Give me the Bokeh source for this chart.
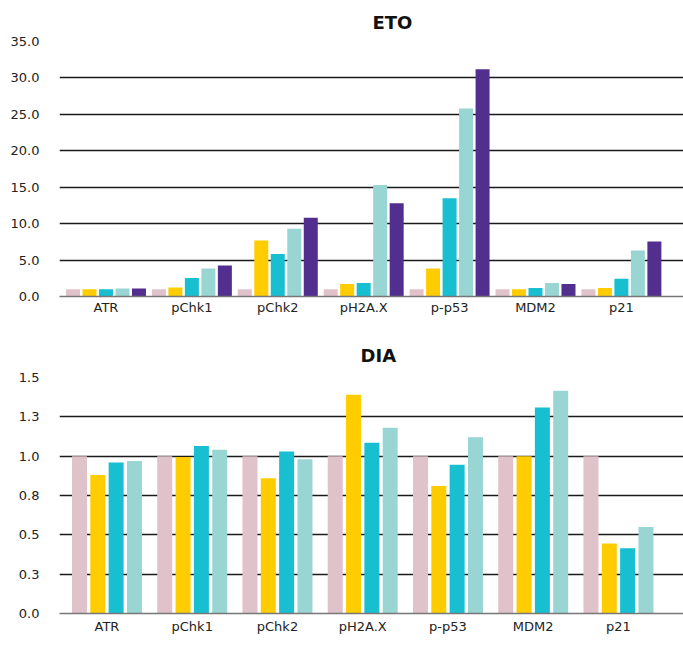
from bokeh.plotting import figure
from bokeh.layouts import column
from bokeh.models import FixedTicker, Range1d, Title
from bokeh.embed import file_html
from bokeh.resources import INLINE

categories = ["ATR", "pChk1", "pChk2", "pH2A.X", "p-p53", "MDM2", "p21"]

# ETO panel (5 series)
eto_s1 = [1.0, 1.0, 1.0, 1.0, 1.0, 1.0, 1.0]
eto_s2 = [1.0, 1.25, 7.7, 1.7, 3.85, 1.0, 1.15]
eto_s3 = [1.0, 2.55, 5.85, 1.85, 13.5, 1.15, 2.45]
eto_s4 = [1.1, 3.85, 9.3, 15.3, 25.8, 1.85, 6.3]
eto_s5 = [1.1, 4.25, 10.8, 12.8, 31.2, 1.7, 7.55]

# DIA panel (4 series)
dia_s1 = [1.0, 1.0, 1.0, 1.0, 1.0, 1.0, 1.0]
dia_s2 = [0.88, 0.995, 0.86, 1.39, 0.81, 1.0, 0.445]
dia_s3 = [0.96, 1.065, 1.03, 1.085, 0.945, 1.31, 0.415]
dia_s4 = [0.97, 1.04, 0.98, 1.18, 1.12, 1.415, 0.55]

eto_ticks = [0, 5, 10, 15, 20, 25, 30, 35]
eto_tick_labels = ["0.0", "5.0", "10.0", "15.0", "20.0", "25.0", "30.0", "35.0"]
dia_ticks = [0, 0.25, 0.5, 0.75, 1.0, 1.25, 1.5]
dia_tick_labels = ["0.0", "0.3", "0.5", "0.8", "1.0", "1.3", "1.5"]

colors5 = ["#E0C2CB", "#FFCC00", "#17BFD0", "#99D6D3", "#522E8E"]

FONT = "DejaVu Sans"


def make_panel(title, series, ticks, tick_labels, ymax, frame_h, b_top, b_bottom,
               x0, x1, slot, bw, title_offset, title_standoff, label_standoff):
    p = figure(output_backend="svg", toolbar_location=None,
               frame_width=624, frame_height=frame_h,
               min_border_left=59, min_border_right=0,
               min_border_top=b_top, min_border_bottom=b_bottom,
               x_range=Range1d(x0, x1), y_range=Range1d(0, ymax),
               tools="")
    p.title = Title(text=title, align="left", offset=title_offset,
                    text_font=FONT, text_font_size="18px",
                    text_font_style="bold", text_color="#111111",
                    standoff=title_standoff)
    n = len(series)
    xs = list(range(len(categories)))
    for k, vals in enumerate(series):
        off = (k - (n - 1) / 2) * slot
        p.vbar(x=[x + off for x in xs], top=vals, bottom=0, width=bw,
               fill_color=colors5[k], line_color=None)
    p.outline_line_color = None
    p.background_fill_color = "white"
    p.border_fill_color = "white"
    p.xgrid.grid_line_color = None
    p.ygrid.ticker = FixedTicker(ticks=ticks)
    p.ygrid.grid_line_color = "#1a1a1a"
    p.ygrid.grid_line_width = 1.3
    p.ygrid.level = "underlay"

    ya = p.yaxis[0]
    ya.ticker = FixedTicker(ticks=ticks)
    ya.major_label_overrides = {t: l for t, l in zip(ticks, tick_labels)}
    ya.axis_line_color = None
    ya.major_tick_line_color = None
    ya.minor_tick_line_color = None
    ya.major_label_standoff = 14
    ya.major_label_text_font = FONT
    ya.major_label_text_font_size = "13px"
    ya.major_label_text_color = "#222222"

    xa = p.xaxis[0]
    xa.ticker = FixedTicker(ticks=xs)
    xa.major_label_overrides = {i: c for i, c in enumerate(categories)}
    xa.axis_line_color = "#777777"
    xa.axis_line_width = 1.5
    xa.major_tick_line_color = None
    xa.minor_tick_line_color = None
    xa.major_tick_out = 0
    xa.major_label_standoff = label_standoff
    xa.major_label_text_font = FONT
    xa.major_label_text_font_size = "13px"
    xa.major_label_text_color = "#222222"
    return p


p1 = make_panel("ETO", [eto_s1, eto_s2, eto_s3, eto_s4, eto_s5],
                eto_ticks, eto_tick_labels, 35, 255, 41, 34,
                -0.541, 6.723, 0.192, 0.163, 313, 18, 3)
p2 = make_panel("DIA", [dia_s1, dia_s2, dia_s3, dia_s4],
                dia_ticks, dia_tick_labels, 1.5, 236, 47, 24,
                -0.557, 6.763, 0.215, 0.176, 301, 24, 5)

layout = column(p1, p2, spacing=0)
open("out.html", "w").write(file_html(layout, INLINE))
